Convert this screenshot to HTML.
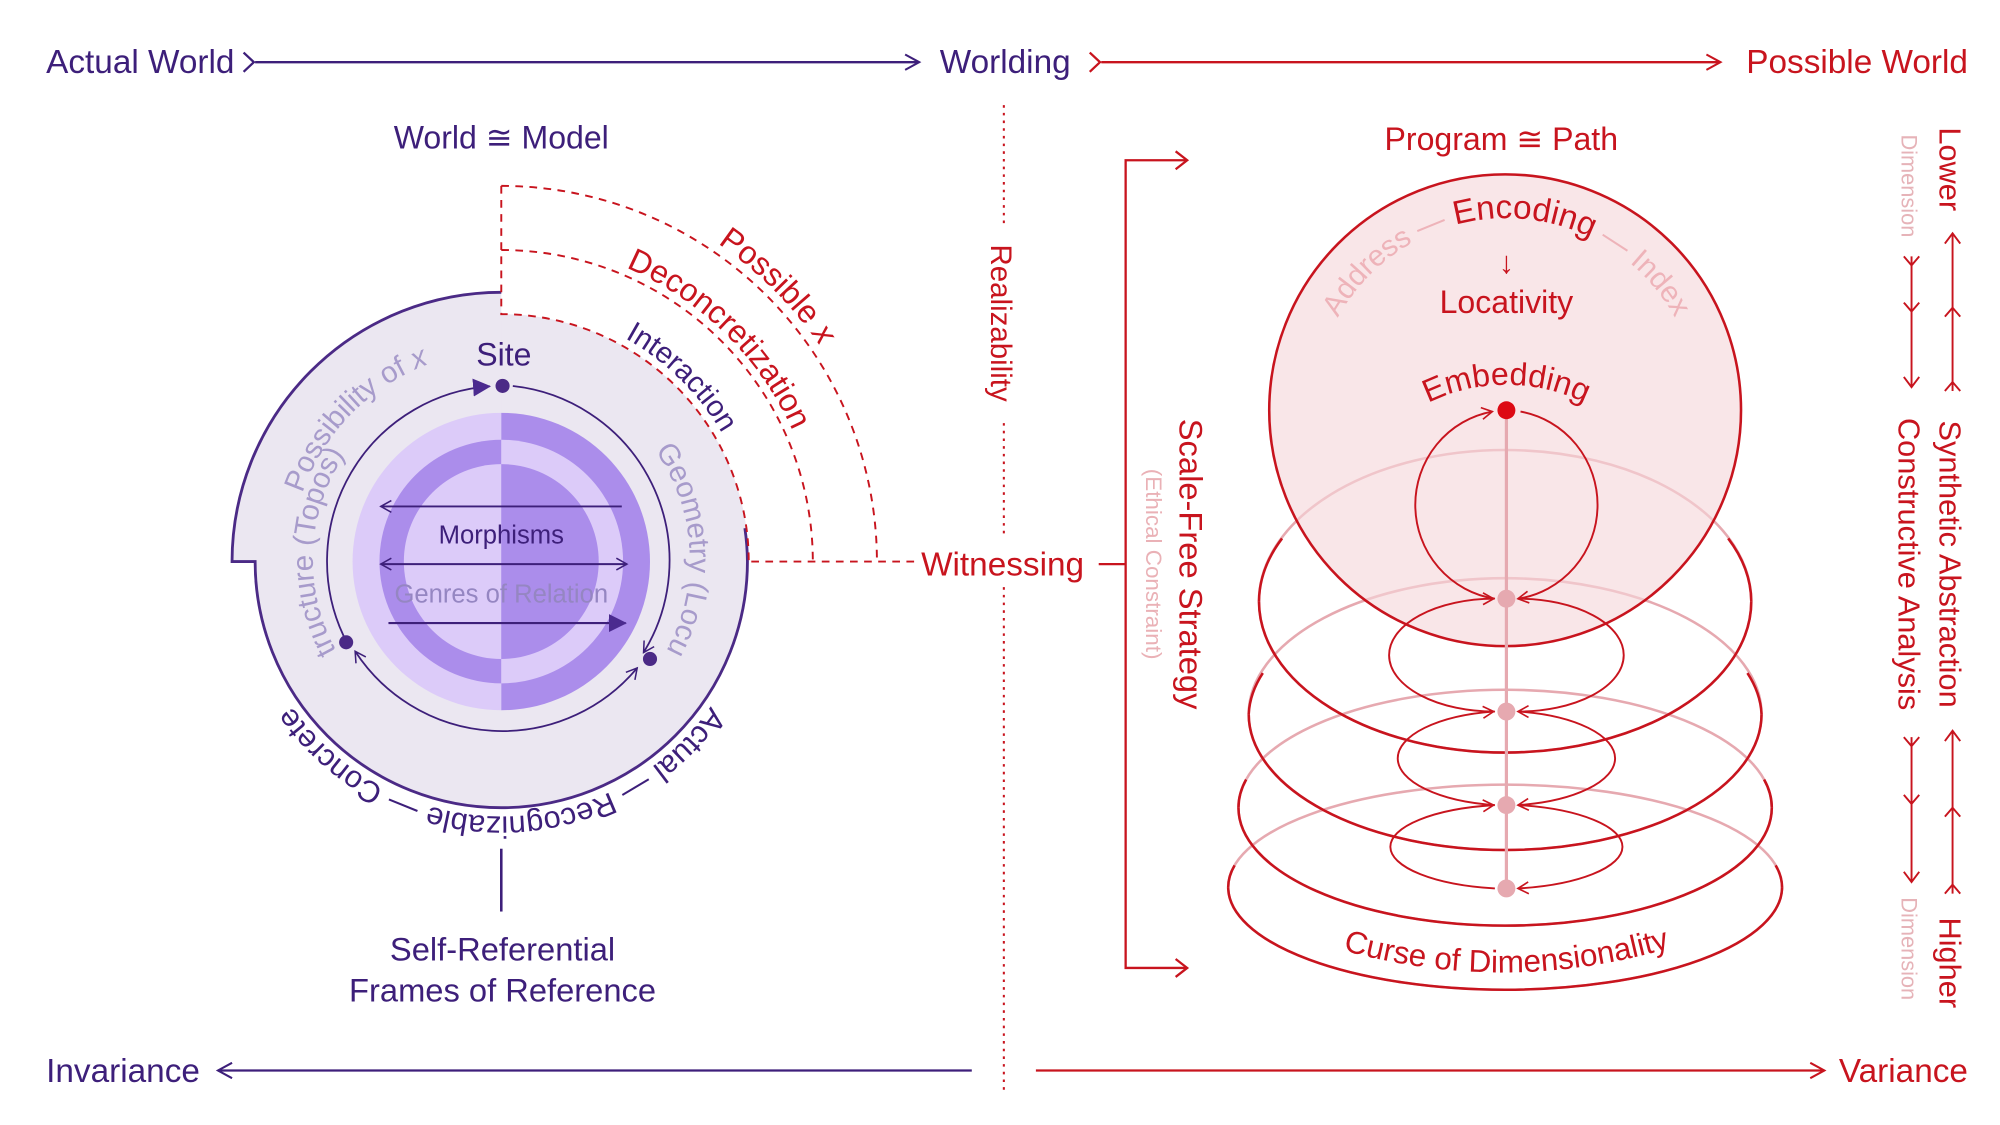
<!DOCTYPE html>
<html><head><meta charset="utf-8"><style>
html,body{margin:0;padding:0;background:#fff;}
svg{display:block;font-family:"Liberation Sans",Arial,sans-serif;}
</style></head><body>
<svg width="2000" height="1125" viewBox="0 0 1560 877.5" xmlns="http://www.w3.org/2000/svg">
<defs>
<marker id="ar" viewBox="0 0 14 14" refX="12" refY="7" markerWidth="14" markerHeight="14" markerUnits="userSpaceOnUse" orient="auto-start-reverse"><path d="M1,1 L12,7 L1,13" fill="none" stroke="#c8141e" stroke-width="1.6"/></marker>
<marker id="ars" viewBox="0 0 12 12" refX="10" refY="6" markerWidth="11" markerHeight="11" markerUnits="userSpaceOnUse" orient="auto-start-reverse"><path d="M1,1 L10,6 L1,11" fill="none" stroke="#c8141e" stroke-width="1.4"/></marker>
<marker id="ap" viewBox="0 0 14 14" refX="12" refY="7" markerWidth="14" markerHeight="14" markerUnits="userSpaceOnUse" orient="auto-start-reverse"><path d="M1,1 L12,7 L1,13" fill="none" stroke="#3d1f7a" stroke-width="1.6"/></marker>
<marker id="apk" viewBox="0 0 12 12" refX="10" refY="6" markerWidth="11" markerHeight="11" markerUnits="userSpaceOnUse" orient="auto-start-reverse"><path d="M1,1 L10,6 L1,11" fill="none" stroke="#3d1f7a" stroke-width="1.3"/></marker>
<marker id="apf" viewBox="0 0 14 14" refX="13" refY="7" markerWidth="14" markerHeight="14" markerUnits="userSpaceOnUse" orient="auto"><path d="M0,0 L14,7 L0,14 Z" fill="#4b2a8f"/></marker>

<path id="pUp147" d="M264.6,511.5 A147,147 0 1 1 517.4,511.5"/>
<path id="pUp164" d="M249,520 A164,164 0 1 1 533,520"/>
<path id="pUp199" d="M218.7,537.5 A199,199 0 1 1 563.3,537.5"/>
<path id="pUp249" d="M175.4,562.5 A249,249 0 1 1 606.6,562.5"/>
<path id="pUp300" d="M131.2,588 A300,300 0 1 1 650.8,588"/>
<path id="pBot" d="M562,339 A198,198 0 1 1 220,339"/>
<path id="pEnc" d="M1052,406 A150,150 0 1 1 1298,406"/>
<path id="pEmb" d="M1055,370 A138,138 0 0 1 1295,370"/>
<path id="pCurse" d="M1030,736 Q1175,782 1320,734"/>
</defs>

<!-- TOP ROW -->
<text x="36" y="57" font-size="26" fill="#3d1f7a">Actual World</text>
<polyline points="190,41 198,48.5 190,56" fill="none" stroke="#3d1f7a" stroke-width="1.8"/>
<line x1="199" y1="48.5" x2="717" y2="48.5" stroke="#3d1f7a" stroke-width="1.8" marker-end="url(#ap)"/>
<text x="733" y="57" font-size="26" fill="#3d1f7a">Worlding</text>
<polyline points="850,41 858,48.5 850,56" fill="none" stroke="#c8141e" stroke-width="1.8"/>
<line x1="859" y1="48.5" x2="1342" y2="48.5" stroke="#c8141e" stroke-width="1.8" marker-end="url(#ar)"/>
<text x="1535" y="57" font-size="26" fill="#c8141e" text-anchor="end">Possible World</text>

<!-- BOTTOM ROW -->
<text x="36" y="844" font-size="26" fill="#3d1f7a">Invariance</text>
<line x1="758" y1="835" x2="170" y2="835" stroke="#3d1f7a" stroke-width="1.8" marker-end="url(#ap)"/>
<line x1="808" y1="835" x2="1423" y2="835" stroke="#c8141e" stroke-width="1.8" marker-end="url(#ar)"/>
<text x="1535" y="844" font-size="26" fill="#c8141e" text-anchor="end">Variance</text>

<!-- center dotted -->
<g stroke="#c8141e" stroke-width="1.6" stroke-dasharray="2 4">
<line x1="783" y1="82" x2="783" y2="178"/>
<line x1="783" y1="330" x2="783" y2="420"/>
<line x1="783" y1="458" x2="783" y2="850"/>
</g>
<text transform="translate(773,252) rotate(90)" font-size="23" fill="#c8141e" text-anchor="middle">Realizability</text>
<text x="782" y="449" font-size="26" fill="#c8141e" text-anchor="middle">Witnessing</text>

<!-- LEFT DIAGRAM -->
<text x="391" y="116" font-size="25" fill="#3d1f7a" text-anchor="middle">World ≅ Model</text>
<circle cx="391" cy="438" r="193" fill="#ebe7f1"/>
<path d="M391,438 L391,228 A210,210 0 0 0 181,438 Z" fill="#ebe7f1"/>
<path d="M391,228 A210,210 0 0 0 181,438 L199,438 A192,192 0 0 0 583,438 A192,192 0 0 0 581,412" fill="none" stroke="#4b2a86" stroke-width="2.2"/>

<g fill="none" stroke="#c8141e" stroke-width="1.5" stroke-dasharray="6 5">
<path d="M391,145 L391,245 A193,193 0 0 1 584,438"/>
<path d="M391,195 A243,243 0 0 1 634,438"/>
<path d="M391,145 A293,293 0 0 1 684,438"/>
<line x1="586" y1="438" x2="716" y2="438"/>
</g>
<text font-size="23" fill="#3d1f7a"><textPath href="#pUp199" startOffset="68.5%" text-anchor="middle">Interaction</textPath></text>
<text font-size="25" fill="#c8141e"><textPath href="#pUp249" startOffset="68.5%" text-anchor="middle">Deconcretization</textPath></text>
<text font-size="25" fill="#c8141e"><textPath href="#pUp300" startOffset="68.8%" text-anchor="middle">Possible <tspan font-style="italic">x</tspan></textPath></text>

<!-- rings -->
<path d="M391,322 A116,116 0 0 0 391,554 Z" fill="#dccbf9"/>
<path d="M391,322 A116,116 0 0 1 391,554 Z" fill="#ab8deb"/>
<path d="M391,343 A95,95 0 0 0 391,533 Z" fill="#ab8deb"/>
<path d="M391,343 A95,95 0 0 1 391,533 Z" fill="#dccbf9"/>
<path d="M391,362 A76,76 0 0 0 391,514 Z" fill="#dccbf9"/>
<path d="M391,362 A76,76 0 0 1 391,514 Z" fill="#ab8deb"/>

<line x1="485" y1="395" x2="297" y2="395" stroke="#3d1f7a" stroke-width="1.5" marker-end="url(#apk)"/>
<line x1="297" y1="440" x2="489" y2="440" stroke="#3d1f7a" stroke-width="1.5" marker-start="url(#apk)" marker-end="url(#apk)"/>
<line x1="303" y1="486" x2="488" y2="486" stroke="#3d1f7a" stroke-width="1.6" marker-end="url(#apf)"/>
<text x="391" y="424" font-size="20" fill="#3d1f7a" text-anchor="middle">Morphisms</text>
<text x="391" y="470" font-size="20" fill="#9586c2" text-anchor="middle">Genres of Relation</text>

<g fill="none" stroke="#3d1f7a" stroke-width="1.4">
<path d="M400,301.1 A137,137 0 0 1 502,509" marker-end="url(#apk)"/>
<path d="M497,521 A137,137 0 0 1 277,508" marker-start="url(#apk)" marker-end="url(#apk)"/>
<path d="M268,496 A137,137 0 0 1 382,301.3" marker-end="url(#apf)"/>
</g>
<circle cx="392" cy="301" r="5.5" fill="#4b2a86"/>
<circle cx="270" cy="501" r="5.5" fill="#4b2a86"/>
<circle cx="507" cy="514" r="5.5" fill="#4b2a86"/>
<text x="393" y="285" font-size="25" fill="#3d1f7a" text-anchor="middle">Site</text>

<text font-size="23" fill="#a79bcb"><textPath href="#pUp164" startOffset="31%" text-anchor="middle">Possibility of <tspan font-style="italic">x</tspan></textPath></text>
<text font-size="23" fill="#a79bcb"><textPath href="#pUp147" startOffset="12.5%" text-anchor="middle">Structure (Topos)</textPath></text>
<text font-size="23" fill="#a79bcb"><textPath href="#pUp147" startOffset="87.5%" text-anchor="middle">Geometry (Locus)</textPath></text>
<text font-size="24" fill="#3d1f7a"><textPath href="#pBot" startOffset="50%" text-anchor="middle">Actual — Recognizable — Concrete</textPath></text>

<line x1="391" y1="662" x2="391" y2="711" stroke="#3d1f7a" stroke-width="2"/>
<text x="392" y="749" font-size="25.5" fill="#3d1f7a" text-anchor="middle">Self-Referential</text>
<text x="392" y="781" font-size="25.5" fill="#3d1f7a" text-anchor="middle">Frames of Reference</text>

<!-- RIGHT DIAGRAM -->
<text x="1171" y="117" font-size="25" fill="#c8141e" text-anchor="middle">Program ≅ Path</text>

<g fill="none" stroke="#c8141e" stroke-width="1.8">
<polyline points="925,125 878,125 878,755 925,755"/>
<line x1="857" y1="440" x2="878" y2="440"/>
<polyline points="917,118 926,125 917,132"/>
<polyline points="917,748 926,755 917,762"/>
</g>
<text transform="translate(920,440) rotate(90)" font-size="25.5" fill="#c8141e" text-anchor="middle">Scale-Free Strategy</text>
<text transform="translate(894,440) rotate(90)" font-size="17.5" fill="#eab1b6" text-anchor="middle">(Ethical Constraint)</text>

<g fill="none" stroke="#e6a9b0" stroke-width="2">
<ellipse cx="1174" cy="692" rx="216" ry="80"/>
<ellipse cx="1174" cy="630" rx="208" ry="92"/>
<ellipse cx="1174" cy="557" rx="200" ry="106"/>
<ellipse cx="1174" cy="469" rx="192" ry="118"/>
</g>
<g fill="none" stroke="#c8141e" stroke-width="2">
<path d="M958,692 A216,80 0 0 0 1390,692"/>
<path d="M966,630 A208,92 0 0 0 1382,630"/>
<path d="M974,557 A200,106 0 0 0 1374,557"/>
<path d="M982,469 A192,118 0 0 0 1366,469"/>
<path d="M958,692 A216,80 0 0 1 963,675"/>
<path d="M1390,692 A216,80 0 0 0 1385,675"/>
<path d="M966,630 A208,92 0 0 1 972,608"/>
<path d="M1382,630 A208,92 0 0 0 1376,608"/>
<path d="M974,557 A200,106 0 0 1 985,525"/>
<path d="M1374,557 A200,106 0 0 0 1363,525"/>
</g>

<circle cx="1174" cy="320" r="184" fill="#f6d6da" fill-opacity="0.62" stroke="#c8141e" stroke-width="2"/>
<path d="M982,469 A192,118 0 0 1 1000,420" fill="none" stroke="#c8141e" stroke-width="2"/>
<path d="M1366,469 A192,118 0 0 0 1348,420" fill="none" stroke="#c8141e" stroke-width="2"/>

<line x1="1175" y1="320" x2="1175" y2="693" stroke="#e6a9b0" stroke-width="2.5"/>
<g fill="none" stroke="#c8141e" stroke-width="1.5">
<path d="M1166,467 A73,74 0 0 1 1164,321" marker-end="url(#ars)"/>
<path d="M1186,321 A73,74 0 0 1 1184,467" marker-end="url(#ars)"/>
<path d="M1166,555 A82,44 0 0 1 1165,467" marker-end="url(#ars)"/>
<path d="M1185,467 A82,44 0 0 1 1184,555" marker-end="url(#ars)"/>
<path d="M1166,628 A90,37 0 0 1 1165,555" marker-end="url(#ars)"/>
<path d="M1185,555 A90,37 0 0 1 1184,628" marker-end="url(#ars)"/>
<path d="M1166,693 A98,33 0 0 1 1165,628" marker-end="url(#ars)"/>
<path d="M1185,628 A98,33 0 0 1 1184,693" marker-end="url(#ars)"/>
</g>
<circle cx="1175" cy="320" r="7" fill="#dd0a14"/>
<g fill="#e6a9b0"><circle cx="1175" cy="467" r="7"/><circle cx="1175" cy="555" r="7"/><circle cx="1175" cy="628" r="7"/><circle cx="1175" cy="693" r="7"/></g>

<text font-size="24"><textPath href="#pEnc" startOffset="50%" text-anchor="middle"><tspan fill="#eeb3b9" font-size="23">Address — </tspan><tspan fill="#c8141e" font-size="26">Encoding</tspan><tspan fill="#eeb3b9" font-size="23"> — Index</tspan></textPath></text>
<text x="1175" y="213" font-size="24" fill="#c8141e" text-anchor="middle">↓</text>
<text x="1175" y="244" font-size="25" fill="#c8141e" text-anchor="middle">Locativity</text>
<text font-size="25" fill="#c8141e"><textPath href="#pEmb" startOffset="50%" text-anchor="middle">Embedding</textPath></text>
<text font-size="24.5" fill="#c8141e"><textPath href="#pCurse" startOffset="50%" text-anchor="middle">Curse of Dimensionality</textPath></text>

<!-- RIGHT COLUMN -->
<text transform="translate(1513,132) rotate(90)" font-size="24" fill="#c8141e" text-anchor="middle">Lower</text>
<text transform="translate(1513,440) rotate(90)" font-size="24" fill="#c8141e" text-anchor="middle">Synthetic Abstraction</text>
<text transform="translate(1513,751) rotate(90)" font-size="24" fill="#c8141e" text-anchor="middle">Higher</text>
<text transform="translate(1483,145) rotate(90)" font-size="17" fill="#e6b3b8" text-anchor="middle">Dimension</text>
<text transform="translate(1481,440) rotate(90)" font-size="24" fill="#c8141e" text-anchor="middle">Constructive Analysis</text>
<text transform="translate(1483,740) rotate(90)" font-size="17" fill="#e6b3b8" text-anchor="middle">Dimension</text>
<g fill="none" stroke="#c8141e" stroke-width="1.5">
<line x1="1523" y1="182" x2="1523" y2="305"/>
<polyline points="1517,190 1523,182 1529,190"/>
<polyline points="1517,247 1523,240 1529,247"/>
<polyline points="1517,305 1523,298 1529,305"/>
<line x1="1523" y1="570" x2="1523" y2="697"/>
<polyline points="1517,578 1523,570 1529,578"/>
<polyline points="1517,637 1523,630 1529,637"/>
<polyline points="1517,697 1523,690 1529,697"/>
<line x1="1491" y1="200" x2="1491" y2="302"/>
<polyline points="1485,200 1491,207 1497,200"/>
<polyline points="1485,236 1491,243 1497,236"/>
<polyline points="1485,294 1491,302 1497,294"/>
<line x1="1491" y1="575" x2="1491" y2="688"/>
<polyline points="1485,575 1491,582 1497,575"/>
<polyline points="1485,620 1491,627 1497,620"/>
<polyline points="1485,680 1491,688 1497,680"/>
</g>
</svg>
</body></html>
